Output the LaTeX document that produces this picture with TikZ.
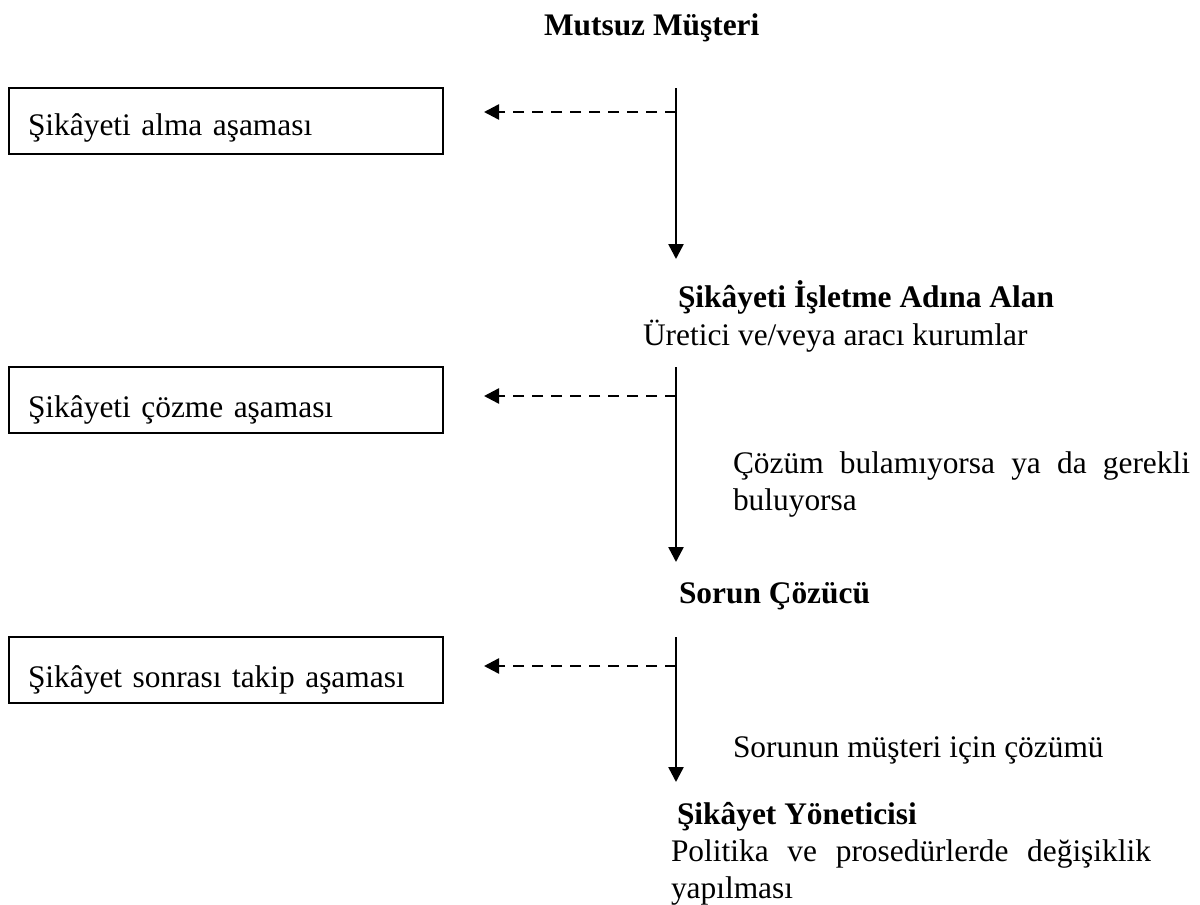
\documentclass[tikz,border=0pt]{standalone}
\usepackage{fontspec}
\setmainfont{Liberation Serif}
\usetikzlibrary{arrows.meta}
\begin{document}
\begin{tikzpicture}[x=1pt,y=1pt,
  every node/.style={inner sep=0pt, outer sep=0pt, font=\fontsize{31.4}{38}\selectfont},
  txt/.style={anchor=base west},
  bold/.style={anchor=base west, font=\fontsize{31.4}{38}\selectfont\bfseries},
  stagebox/.style={draw, line width=2pt, anchor=base west, inner xsep=19pt, inner ysep=0pt,
    text width=396pt, align=left},
  flow/.style={line width=2.5pt, -{Triangle[length=15pt,width=15pt]}},
  back/.style={line width=2.5pt, dash pattern=on 11pt off 8pt, -{Triangle[length=15pt,width=15pt]}}
]
\useasboundingbox (0,0) rectangle (1200,-905);

% title
\node[bold] (title) at (544,-35) {Mutsuz Müşteri};

% stage boxes
\node[stagebox, text height=47pt, text depth=19pt] (b1) at (9,-135) {Şikâyeti alma aşaması};
\node[stagebox, text height=50pt, text depth=16pt] (b2) at (9,-417) {Şikâyeti çözme aşaması};
\node[stagebox, text height=50pt, text depth=16pt] (b3) at (9,-687) {Şikâyet sonrası takip aşaması};

% right column texts
\node[bold] (alan1) at (678,-307) {Şikâyeti İşletme Adına Alan};
\node[txt] (alan2) at (643,-345) {Üretici ve/veya aracı kurumlar};
\node[txt] (cond1) at (733,-473) {\hbox to 457pt{Çözüm\hfill bulamıyorsa\hfill ya\hfill da\hfill gerekli}};
\node[txt] (cond2) at (733,-510) {buluyorsa};
\node[bold] (cozucu) at (679,-603) {Sorun Çözücü};
\node[txt] (sol) at (733,-757) {Sorunun müşteri için çözümü};
\node[bold] (yon) at (677,-824) {Şikâyet Yöneticisi};
\node[txt] (pol1) at (671,-861) {\hbox to 480pt{Politika\hfill ve\hfill prosedürlerde\hfill değişiklik}};
\node[txt] (pol2) at (671,-898) {yapılması};

% vertical flow coordinates
\coordinate (v1s) at (676,-88);
\coordinate (v1e) at (676,-259);
\coordinate (v2s) at (676,-367);
\coordinate (v2e) at (676,-562);
\coordinate (v3s) at (676,-637);
\coordinate (v3e) at (676,-782);

\coordinate (d1) at (676,-112);
\coordinate (d2) at (676,-396);
\coordinate (d3) at (676,-666);
\coordinate (t1) at (484,-112);
\coordinate (t2) at (484,-396);
\coordinate (t3) at (484,-666);

\draw[flow] (v1s) -- (v1e);
\draw[flow] (v2s) -- (v2e);
\draw[flow] (v3s) -- (v3e);

\draw[back] (d1) -- (t1);
\draw[back] (d2) -- (t2);
\draw[back] (d3) -- (t3);
\end{tikzpicture}
\end{document}
